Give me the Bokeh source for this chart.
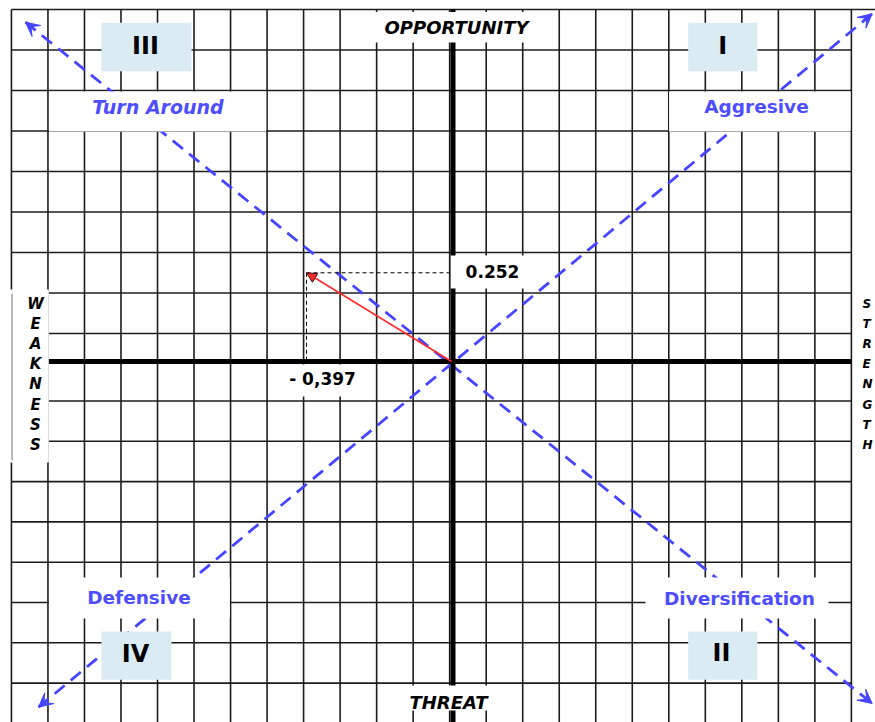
import numpy as np
from bokeh.plotting import figure
from bokeh.models import Range1d, Arrow, VeeHead, NormalHead
from bokeh.core.properties import value
from bokeh.embed import file_html
from bokeh.resources import INLINE

# ---------------- data ----------------
score_x = [-0.397]            # internal factor score (Strength - Weakness)
score_y = [0.252]             # external factor score (Opportunity - Threat)
score_x_text = ["- 0,397"]
score_y_text = ["0.252"]

quadrant_numerals = ["I", "II", "III", "IV"]
strategy_labels = ["Aggresive", "Diversification", "Turn Around", "Defensive"]
vertical_titles = ["OPPORTUNITY", "THREAT"]
side_titles = ["WEAKNESS", "STRENGTH"]

# ---------------- layout geometry ----------------
W, H = 875, 722
OFF = 0                      # picture offset of the plot canvas
PX0, PY0 = 451.0, 361.0      # picture position of the origin
SX, SY = 365.2, 352.0        # pixels per unit on each axis


def ux(px):
    return (np.asarray(px, dtype=float) - PX0) / SX


def uy(py):
    return (PY0 - np.asarray(py, dtype=float)) / SY


FONT = value("DejaVu Sans")
BLUE_TXT = "#4d4dff"
BLUE_LN = "#4545ff"
GRID = "#1c1c1c"
BOXBLUE = "#daebf3"

p = figure(width=W, height=H,
           x_range=Range1d(float(ux(OFF)), float(ux(OFF + W))),
           y_range=Range1d(float(uy(OFF + H)), float(uy(OFF))),
           output_backend="svg", toolbar_location=None,
           x_axis_location=None, y_axis_location=None,
           min_border=0, outline_line_color=None,
           background_fill_color="white", border_fill_color="white")
p.grid.visible = False

# ---- grid ----
col_step = 0.1
cols = np.arange(-12, 12)
vx = cols * col_step - 0.005
grid_top = float(uy(9))
grid_bot = float(uy(740))
p.segment(x0=vx, y0=grid_top, x1=vx, y1=grid_bot, line_color=GRID, line_width=1.6)

row_px = [9 + 40.5 * k for k in range(9)] + [400.5 + 40.3 * k for k in range(9)]
hy = uy(row_px)
x_left, x_right = float(vx[0]), float(vx[-1])
x1s = [x_right] * len(hy)
x1s[0] = float(ux(890))
p.segment(x0=x_left, y0=hy, x1=x1s, y1=hy, line_color=GRID, line_width=1.6)

# ---- strategy diagonals (dashed blue) ----
diag_x0 = ux([25, 38])
diag_y0 = uy([21.7, 706.7])
diag_x1 = ux([871.7, 871.7])
diag_y1 = uy([703, 13.3])
p.segment(x0=diag_x0, y0=diag_y0, x1=diag_x1, y1=diag_y1,
          line_color=BLUE_LN, line_width=2.8, line_dash="13 8")

# ---- main axes (thick) ----
p.segment(x0=[float(ux(47.5))], y0=[0.0], x1=[x_right], y1=[0.0], line_color="black", line_width=5)
p.segment(x0=[float(ux(452.5))], y0=[grid_top], x1=[float(ux(452.5))], y1=[grid_bot],
          line_color="black", line_width=5)

# ---- projection guides ----
p.segment(x0=score_x, y0=score_y, x1=[0.0], y1=score_y, line_color="black", line_width=1, line_dash="4 3")
p.segment(x0=score_x, y0=score_y, x1=score_x, y1=[0.0], line_color="black", line_width=1, line_dash="4 3")

# ---- white label boxes ----
wb = {  # left, right, top, bottom (picture px)
    "turn": (48.5, 265.7, 91, 131),
    "aggr": (668.6, 850.0, 91, 131),
    "def": (48.5, 229.3, 577, 618),
    "div": (645, 828, 577, 618),
    "opp": (368, 545, 11.5, 42),
    "thr": (395, 505, 685, 710),
    "vy": (450.3, 526, 255, 288),
    "vx": (272, 372, 364, 396),
    "weak": (9, 48.3, 289, 462),
}
L = [v[0] for v in wb.values()]
R = [v[1] for v in wb.values()]
T = [v[2] for v in wb.values()]
B = [v[3] for v in wb.values()]
p.quad(left=ux(L), right=ux(R), top=uy(T), bottom=uy(B), fill_color="white", line_color=None)
p.segment(x0=[float(ux(11.5))], y0=[float(uy(293))], x1=[float(ux(11.5))], y1=[float(uy(460))],
          line_color="#8a8a8a", line_width=1.2)

# ---- light-blue quadrant boxes ----
qb = {  # I, II, III, IV
    "I": (687.7, 757, 22.3, 70.7),
    "II": (687.7, 757, 631, 679.3),
    "III": (101, 191, 22.3, 70.7),
    "IV": (101, 171, 631, 679.3),
}
p.quad(left=ux([qb[k][0] for k in quadrant_numerals]), right=ux([qb[k][1] for k in quadrant_numerals]),
       top=uy([qb[k][2] for k in quadrant_numerals]), bottom=uy([qb[k][3] for k in quadrant_numerals]),
       fill_color=BOXBLUE, line_color=None)

# numerals
p.text(x=ux([722.3, 721, 145, 135]), y=uy([45, 652.5, 45, 653.5]), text=quadrant_numerals,
       text_font=FONT, text_font_style="bold", text_font_size="24px", text_color="black",
       text_align="center", text_baseline="middle")

# strategy labels
p.text(x=ux([756, 739, 138.5]), y=uy([106, 597.5, 597]),
       text=[strategy_labels[0], strategy_labels[1], strategy_labels[3]],
       text_font=FONT, text_font_style="bold", text_font_size="18.5px", text_color=BLUE_TXT,
       text_align="center", text_baseline="middle")
p.text(x=ux([157.5]), y=uy([106]), text=[strategy_labels[2]],
       text_font=FONT, text_font_style="bold italic", text_font_size="19px", text_color=BLUE_TXT,
       text_align="center", text_baseline="middle")

# opportunity / threat
p.text(x=ux([456, 448]), y=uy([26.5, 702]), text=vertical_titles,
       text_font=FONT, text_font_style="bold italic", text_font_size="18px", text_color="black",
       text_align="center", text_baseline="middle")

# weakness / strength (vertical letters)
weak_letters = list(side_titles[0])
str_letters = list(side_titles[1])
letter_y = uy([303 + 20.2 * i for i in range(8)])
p.text(x=[float(ux(35))] * len(weak_letters), y=letter_y[:len(weak_letters)], text=weak_letters,
       text_font=FONT, text_font_style="bold italic", text_font_size="15px", text_color="black",
       text_align="center", text_baseline="middle")
p.text(x=[float(ux(862))] * len(str_letters), y=letter_y[:len(str_letters)], text=str_letters,
       text_font=FONT, text_font_style="bold italic", text_font_size="12px", text_color="black",
       text_align="left", text_baseline="middle")

# value labels
p.text(x=[0.0], y=score_y, text=score_y_text, x_offset=41, y_offset=-1,
       text_font=FONT, text_font_style="bold", text_font_size="17px", text_color="black",
       text_align="center", text_baseline="middle")
p.text(x=score_x, y=[0.0], text=score_x_text, x_offset=16, y_offset=17,
       text_font=FONT, text_font_style="bold", text_font_size="17px", text_color="black",
       text_align="center", text_baseline="middle")

# ---- arrow heads on diagonals ----
for (xa, ya, xb, yb) in zip(diag_x0, diag_y0, diag_x1, diag_y1):
    for (xs, ys, xe, ye) in ((xb, yb, xa, ya), (xa, ya, xb, yb)):
        p.add_layout(Arrow(x_start=float(xs + (xe - xs) * 0.97), y_start=float(ys + (ye - ys) * 0.97),
                           x_end=float(xe), y_end=float(ye), line_alpha=0,
                           end=VeeHead(size=14, fill_color=BLUE_LN, line_color=BLUE_LN, line_width=1)))

# ---- result vector ----
p.add_layout(Arrow(x_start=0.0, y_start=0.0, x_end=score_x[0], y_end=score_y[0],
                   line_color="#ff2b2b", line_width=1.6,
                   end=NormalHead(size=10, fill_color="#ff2b2b", line_color="#3a1010", line_width=1)))

open("out.html", "w").write(file_html(p, INLINE))
